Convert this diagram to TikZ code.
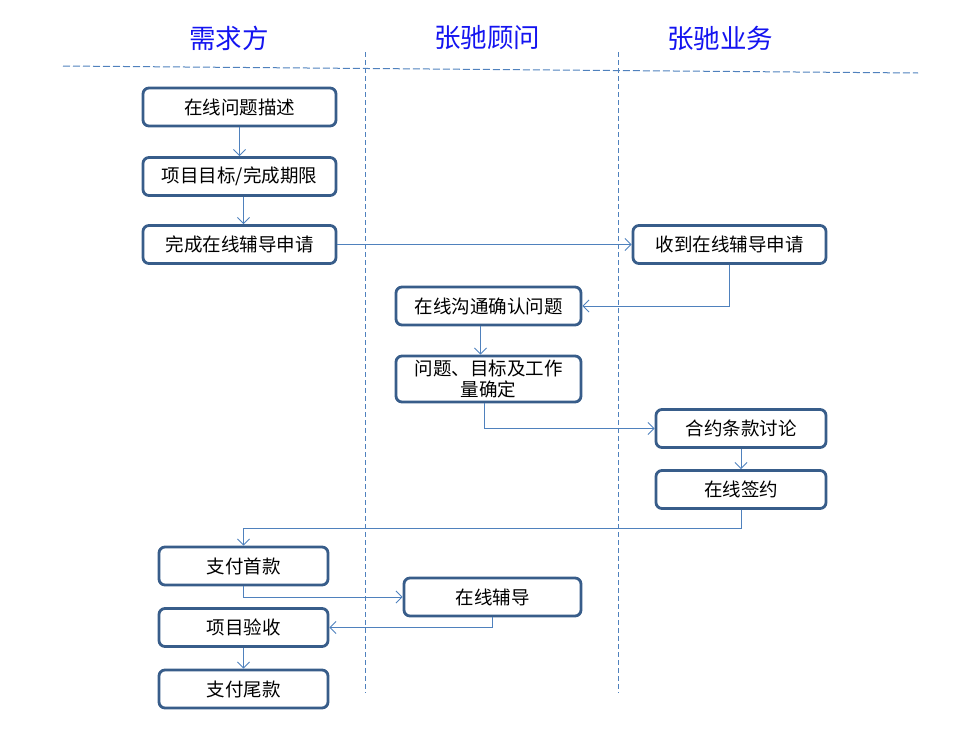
\documentclass[tikz,border=0pt]{standalone}
\usepackage{fontspec}
\setmainfont{Noto Sans CJK SC}
\usetikzlibrary{arrows.meta}
\definecolor{boxc}{RGB}{56,93,138}
\definecolor{linec}{RGB}{79,129,189}
\definecolor{headc}{RGB}{20,20,240}
\begin{document}
\begin{tikzpicture}[x=1pt,y=-1pt,
  box/.style={draw=boxc, line width=2.8pt, rounded corners=6pt, fill=white,
    font=\fontsize{18.5}{21}\selectfont, align=center, inner sep=0pt},
  conn/.style={draw=linec, line width=1pt, -{Straight Barb[length=6pt,width=12pt,line width=0.9pt]}},
  lane/.style={draw=linec, line width=0.8pt, dash pattern=on 5pt off 3pt},
  head/.style={text=headc, font=\fontsize{26.5}{30}\selectfont}]
\useasboundingbox (0,0) rectangle (964,731);
% lanes
\coordinate (hl1) at (63,66); \coordinate (hl2) at (918,73);
\draw[lane, line width=1pt, dash pattern=on 7pt off 3pt] (hl1) -- (hl2);
\coordinate (v1a) at (365,52); \coordinate (v1b) at (365,693);
\coordinate (v2a) at (618,52); \coordinate (v2b) at (618,693);
\draw[lane] (v1a) -- (v1b);
\draw[lane] (v2a) -- (v2b);
% headers
\node[head] (h1) at (229,38) {需求方};
\node[head] (h2) at (487,38) {张驰顾问};
\node[head] (h3) at (720,38) {张驰业务};
% boxes
\node[box, minimum width=193pt, minimum height=38pt] (b1) at (239.5,107) {在线问题描述};
\node[box, minimum width=193pt, minimum height=38pt] (b2) at (239.5,176.5) {项目目标/完成期限};
\node[box, minimum width=193pt, minimum height=38pt] (b3) at (239.5,244.5) {完成在线辅导申请};
\node[box, minimum width=193pt, minimum height=38pt] (b4) at (729.5,244.5) {收到在线辅导申请};
\node[box, minimum width=185pt, minimum height=38pt] (b5) at (488.5,306) {在线沟通确认问题};
\node[box, minimum width=185pt, minimum height=46pt, font=\fontsize{18.5}{21}\selectfont] (b6) at (488.5,379) {问题、目标及工作\\量确定};
\node[box, minimum width=170pt, minimum height=38pt] (b7) at (741,428.5) {合约条款讨论};
\node[box, minimum width=170pt, minimum height=38pt] (b8) at (741,489.5) {在线签约};
\node[box, minimum width=169pt, minimum height=38pt] (b9) at (243.5,566) {支付首款};
\node[box, minimum width=177pt, minimum height=38pt] (b10) at (492.5,597) {在线辅导};
\node[box, minimum width=169pt, minimum height=38pt] (b11) at (243.5,627.5) {项目验收};
\node[box, minimum width=169pt, minimum height=38pt] (b12) at (243.5,689) {支付尾款};
% connectors
\draw[conn] (b1.south) -- (b2.north);
\draw[conn] ([xshift=4pt]b2.south) -- ([xshift=4pt]b3.north);
\draw[conn] (b3.east) -- (b4.west);
\draw[conn] (b4.south) |- (b5.east);
\draw[conn] ([xshift=-8pt]b5.south) -- ([xshift=-8pt]b6.north);
\draw[conn] ([xshift=-4pt]b6.south) |- (b7.west);
\draw[conn] (b7.south) -- (b8.north);
\draw[conn] (b8.south) -- ++(0,19) -| (b9.north);
\draw[conn] (b9.south) |- (b10.west);
\draw[conn] (b10.south) |- (b11.east);
\draw[conn] (b11.south) -- (b12.north);
\end{tikzpicture}
\end{document}
